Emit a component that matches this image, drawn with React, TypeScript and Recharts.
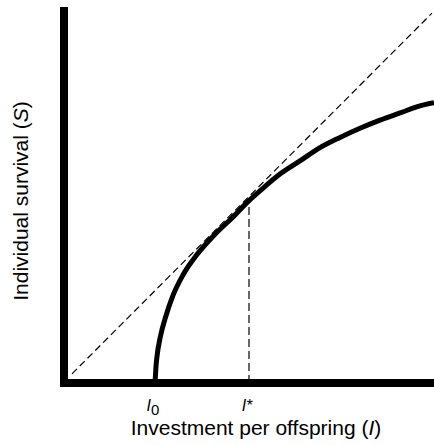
import React from "react";
import { Label, Line, LineChart, XAxis, YAxis } from "recharts";

// survival curve S(I)
const curveI = [91, 91.5, 92, 93, 96.5, 102, 109, 119, 133, 151, 168, 185, 200, 216, 236, 256, 276, 296, 316, 336, 356, 370];
const curveS = [0, 8, 16, 26, 46, 66, 86, 106, 126, 146, 162, 179, 192, 205, 218, 231, 241, 250, 258, 265, 272, 275];

// tangent line from the origin
const tangentI = [8, 368];
const tangentS = [9, 363];

// optimum I*
const optimumI = [185, 185];
const optimumS = [0, 178];

const tickValues = [91, 185];
const tickMarks = ["0", "*"];

const FONT = "'Liberation Sans', Arial, sans-serif";

const toPoints = (xs: number[], ys: number[]) => xs.map((x, i) => ({ x, y: ys[i] }));

function InvestmentTick(props: any) {
  const { x, y, payload } = props;
  const mark = tickMarks[tickValues.indexOf(payload.value)];
  const isSub = mark === "0";
  return (
    <text x={x - 2} y={y + 20} textAnchor="middle" fontFamily={FONT} fontSize={16} fill="#000">
      <tspan fontStyle="italic">I</tspan>
      {isSub ? (
        <tspan dy={4} fontSize={15}>{mark}</tspan>
      ) : (
        <tspan fontStyle="italic">{mark}</tspan>
      )}
    </text>
  );
}

export default function App() {
  return (
    <div style={{ position: "absolute", left: 0, top: 0 }}>
      <LineChart width={434} height={445} margin={{ top: 7, right: 0, left: 0, bottom: 0 }}>
        <XAxis
          type="number"
          dataKey="x"
          domain={[0, 370]}
          allowDataOverflow
          ticks={tickValues}
          tickLine={false}
          tick={InvestmentTick}
          height={62}
          axisLine={{ stroke: "#000", strokeWidth: 8, strokeLinecap: "square" }}
        >
          <Label
            content={({ viewBox }: any) => (
              <text
                x={viewBox.x + viewBox.width / 2 + 7}
                y={viewBox.y + 52}
                textAnchor="middle"
                fontFamily={FONT}
                fontSize={21}
                fill="#000"
              >
                Investment per offspring (<tspan fontStyle="italic">I</tspan>)
              </text>
            )}
          />
        </XAxis>
        <YAxis
          type="number"
          dataKey="y"
          domain={[0, 369]}
          allowDataOverflow
          tick={false}
          tickLine={false}
          width={64}
          axisLine={{ stroke: "#000", strokeWidth: 8 }}
        >
          <Label
            content={({ viewBox }: any) => {
              const cx = 28;
              const cy = viewBox.y + viewBox.height / 2 + 6;
              return (
                <text
                  x={cx}
                  y={cy}
                  transform={`rotate(-90, ${cx}, ${cy})`}
                  textAnchor="middle"
                  fontFamily={FONT}
                  fontSize={21}
                  fill="#000"
                >
                  Individual survival (<tspan fontStyle="italic">S</tspan>)
                </text>
              );
            }}
          />
        </YAxis>
        <Line
          data={toPoints(tangentI, tangentS)}
          dataKey="y"
          type="linear"
          stroke="#000"
          strokeWidth={1.2}
          strokeDasharray="7 4"
          dot={false}
          activeDot={false}
          isAnimationActive={false}
        />
        <Line
          data={toPoints(optimumI, optimumS)}
          dataKey="y"
          type="linear"
          stroke="#000"
          strokeWidth={1.2}
          strokeDasharray="8 4"
          dot={false}
          activeDot={false}
          isAnimationActive={false}
        />
        <Line
          data={toPoints(curveI, curveS)}
          dataKey="y"
          type="monotone"
          stroke="#000"
          strokeWidth={5}
          dot={false}
          activeDot={false}
          isAnimationActive={false}
        />
      </LineChart>
    </div>
  );
}
